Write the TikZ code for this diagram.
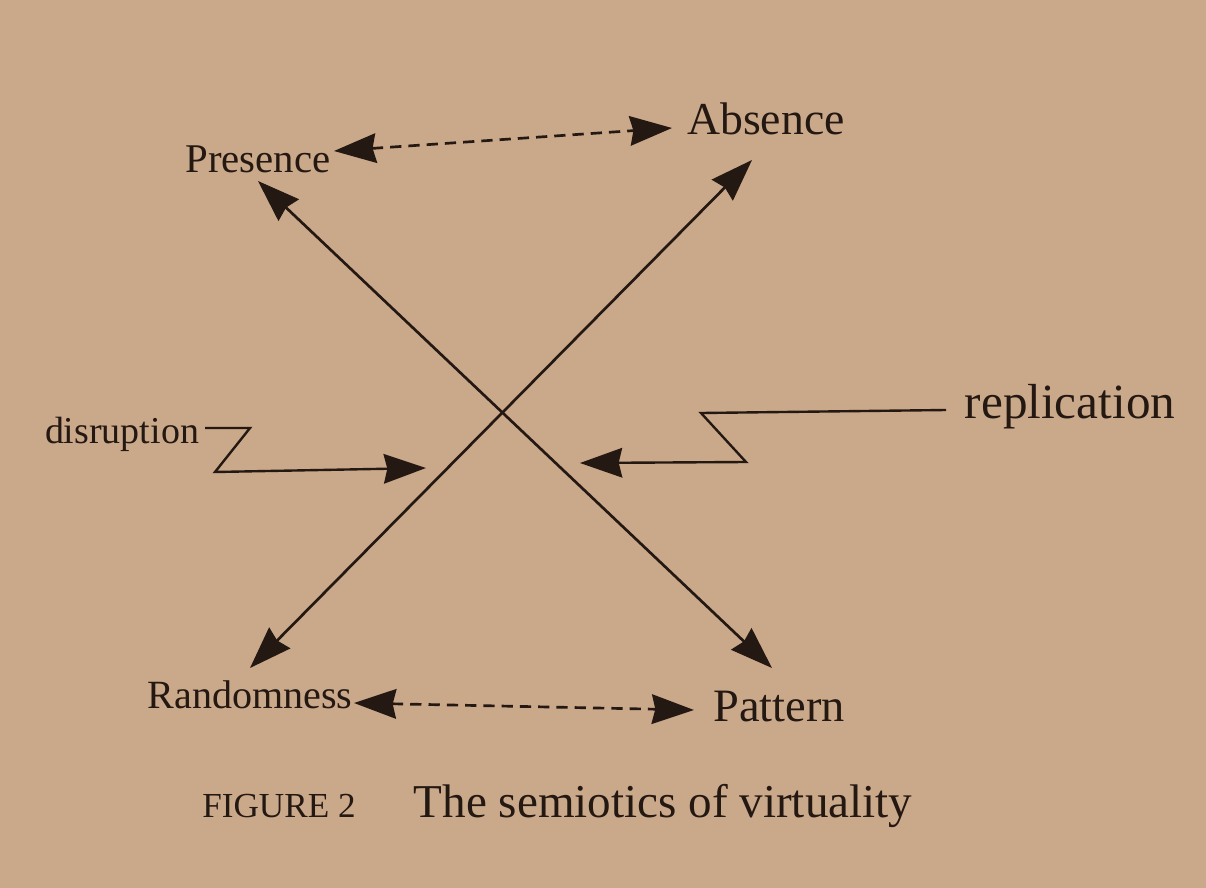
\documentclass[tikz,border=0pt]{standalone}
\usepackage{fontspec}
\setmainfont{Liberation Serif}
\usetikzlibrary{arrows.meta}
\definecolor{paper}{RGB}{202,168,138}
\definecolor{ink}{RGB}{36,24,18}
\begin{document}
\begin{tikzpicture}[x=0.025cm,y=-0.025cm,
  lbl/.style={text=ink, inner sep=0pt, anchor=base},
  cross/.style={draw=ink, line width=1.9pt, {Stealth[length=30pt,width=21pt,inset=2.5pt]}-{Stealth[length=30pt,width=21pt,inset=2.5pt]}},
  dasharrow/.style={draw=ink, line width=1.9pt, dash pattern=on 8pt off 5pt, {Stealth[length=30pt,width=21pt,inset=2.5pt]}-{Stealth[length=30pt,width=21pt,inset=2.5pt]}},
  zig/.style={draw=ink, line width=1.7pt, line join=miter, -{Stealth[length=30pt,width=21pt,inset=2.5pt]}}]
\fill[paper] (0,0) rectangle (1206,888);
\useasboundingbox (0,0) rectangle (1206,888);
% labels
\node[lbl, font=\fontsize{29}{32}\selectfont] (presence) at (258,172) {Presence};
\node[lbl, font=\fontsize{32.5}{36}\selectfont] (absence) at (766,134) {Absence};
\node[lbl, font=\fontsize{28.5}{32}\selectfont] (random) at (250,708) {Randomness};
\node[lbl, font=\fontsize{33}{36}\selectfont] (pattern) at (779,721) {Pattern};
\node[lbl, font=\fontsize{27}{30}\selectfont] (disrupt) at (122,443) {disruption};
\node[lbl, font=\fontsize{35}{38}\selectfont] (replic) at (1070,418) {replication};
\node[lbl, font=\fontsize{25}{28}\selectfont] (figlbl) at (279,817) {FIGURE 2};
\node[lbl, font=\fontsize{33.5}{38}\selectfont] (figtitle) at (663,817) {The semiotics of virtuality};
% arrow end points
\coordinate (pa1) at (334,151);
\coordinate (pa2) at (672,128);
\coordinate (rp1) at (354,703);
\coordinate (rp2) at (694,710);
\coordinate (ptip) at (258,181);
\coordinate (pattip) at (772,668);
\coordinate (rtip) at (250,668);
\coordinate (atip) at (752,160);
\coordinate (d1) at (205,428);
\coordinate (d2) at (250,428);
\coordinate (d3) at (215,472);
\coordinate (d4) at (426,468);
\coordinate (r1) at (946,410);
\coordinate (r2) at (701,413);
\coordinate (r3) at (746,462);
\coordinate (r4) at (580,463);
% connectors
\draw[dasharrow] (pa1) -- (pa2);
\draw[dasharrow] (rp1) -- (rp2);
\draw[cross] (ptip) -- (pattip);
\draw[cross] (rtip) -- (atip);
\draw[zig] (d1) -- (d2) -- (d3) -- (d4);
\draw[zig] (r1) -- (r2) -- (r3) -- (r4);
\end{tikzpicture}
\end{document}
